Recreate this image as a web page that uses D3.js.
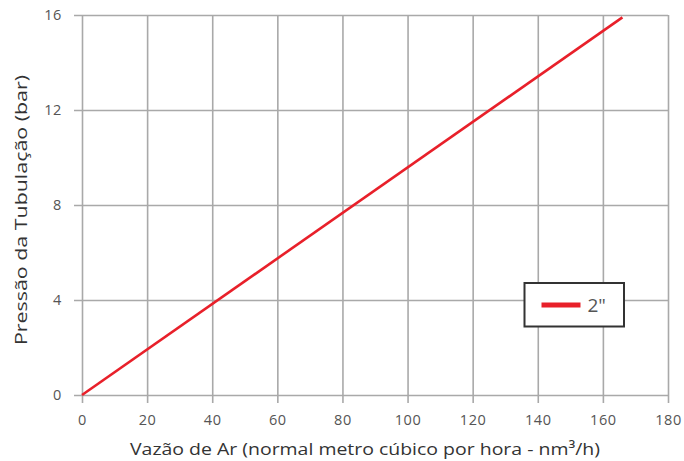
<!DOCTYPE html>
<html><head><meta charset="utf-8">
<script src="https://cdn.jsdelivr.net/npm/d3@7"></script>
<style>body{margin:0;background:#fff}svg{display:block}text{font-family:"Open Sans","Noto Sans",sans-serif}</style>
</head><body><svg id="c" width="684" height="461"></svg>
<script>
const xTicks = [0,20,40,60,80,100,120,140,160,180];
const yTicks = [0,4,8,12,16];
const flow = [0, 166];
const pressure = [0, 15.9];
const seriesName = '2"';

const svg = d3.select("#c");
const m = {l:82, r:684-668, t:15, b:461-395};
const W = 684, H = 461;
const x = d3.scaleLinear().domain([0,180]).range([m.l, W-m.r]);
const y = d3.scaleLinear().domain([0,16]).range([H-m.b, m.t]);
const grid = "#a9a9a9";

// vertical grid + ticks
svg.append("g").attr("transform",`translate(0,${y(0)})`)
  .call(d3.axisBottom(x).tickValues(xTicks).tickSize(-(y(0)-y(16))).tickSizeOuter(0).tickPadding(0))
  .call(g=>g.select(".domain").remove())
  .call(g=>g.selectAll(".tick line").attr("stroke",grid).attr("stroke-width",1.6).attr("y2",-(y(0)-y(16))).attr("y1",8))
  .call(g=>g.selectAll(".tick text").attr("fill","#555").attr("font-size",14.5).attr("letter-spacing",0.6).attr("dy",null).attr("y",30));

svg.append("g").attr("transform",`translate(${x(0)},0)`)
  .call(d3.axisLeft(y).tickValues(yTicks).tickSize(0).tickSizeOuter(0).tickPadding(20))
  .call(g=>g.select(".domain").remove())
  .call(g=>g.selectAll(".tick line").attr("stroke",grid).attr("stroke-width",1.6).attr("x1",-8).attr("x2",x(180)-x(0)))
  .call(g=>g.selectAll(".tick text").attr("fill","#555").attr("font-size",14.5).attr("letter-spacing",0.6));

// series
const pts = flow.map((f,i)=>[f,pressure[i]]);
svg.append("path").datum(pts)
  .attr("d", d3.line().x(d=>x(d[0])).y(d=>y(d[1])))
  .attr("fill","none").attr("stroke","#e8202a").attr("stroke-width",2.6);

// axis titles
svg.append("text").attr("x",130).attr("y",455)
  .attr("font-size",17).attr("fill","#333").attr("textLength",470).attr("lengthAdjust","spacingAndGlyphs")
  .text("Vazão de Ar (normal metro cúbico por hora - nm³/h)");
svg.append("text").attr("transform",`translate(27,345) rotate(-90)`)
  .attr("font-size",17).attr("fill","#333").attr("textLength",270).attr("lengthAdjust","spacingAndGlyphs")
  .text("Pressão da Tubulação (bar)");

// legend
const lg = svg.append("g").attr("transform","translate(524.5,283)");
lg.append("rect").attr("width",99.5).attr("height",43.5).attr("fill","#fff").attr("stroke","#333").attr("stroke-width",2);
lg.append("line").attr("x1",17).attr("x2",56).attr("y1",22).attr("y2",22).attr("stroke","#e8202a").attr("stroke-width",5);
lg.append("text").attr("x",63).attr("y",29).attr("font-size",19).attr("fill","#555").text(seriesName);
</script></body></html>
